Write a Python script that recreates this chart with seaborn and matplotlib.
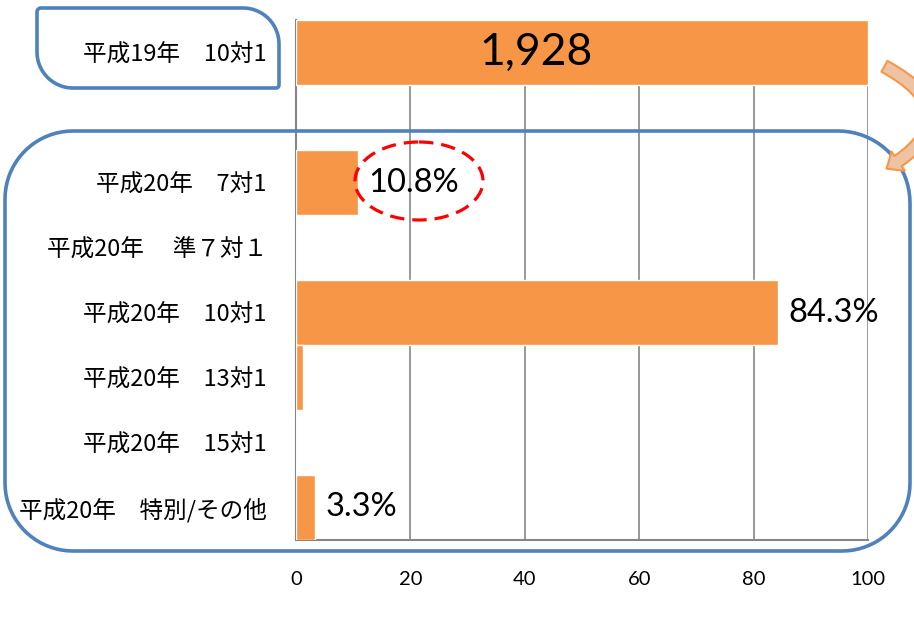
import numpy as np
import matplotlib
matplotlib.use("Agg")
import matplotlib.pyplot as plt
import pandas as pd
import seaborn as sns
from matplotlib.patches import PathPatch, Ellipse, FancyArrowPatch
from matplotlib.path import Path
from matplotlib.transforms import Affine2D

# chart data
categories = [
    "平成19年　10対1",
    " ",
    "平成20年　7対1",
    "平成20年　 準７対１",
    "平成20年　10対1",
    "平成20年　13対1",
    "平成20年　15対1",
    "平成20年　特別/その他",
]
values = [100, np.nan, 10.8, 0, 84.3, 1.3, 0, 3.3]
value_labels = ["1,928", "", "10.8%", "", "84.3%", "", "", "3.3%"]
x_ticks = [0, 20, 40, 60, 80, 100]

W, H = 914, 620
BAR = "#F79646"
GRID = "#868686"
BLUE = "#4F81BD"

sns.set_style("white")
plt.rcParams["font.family"] = ["Noto Sans CJK JP", "DejaVu Sans"]
plt.rcParams["text.color"] = "black"

df = pd.DataFrame({"cat": categories, "val": values})

fig = plt.figure(figsize=(W / 100, H / 100), dpi=100)
ax = fig.add_axes([296 / W, 1 - 540 / H, 572 / W, 520 / H])

sns.barplot(
    data=df, x="val", y="cat", order=categories, orient="h",
    color=BAR, saturation=1, width=0.985, errorbar=None, ax=ax, zorder=3,
)

ax.set_xlim(0, 100)
ax.set_ylim(len(categories) - 0.5, -0.5)
ax.set_xlabel("")
ax.set_ylabel("")
ax.set_axisbelow(True)
ax.xaxis.grid(True, color=GRID, lw=1.2)
ax.yaxis.grid(False)

for side in ["top", "right"]:
    ax.spines[side].set_visible(False)
for side in ["left", "bottom"]:
    ax.spines[side].set_color(GRID)
    ax.spines[side].set_linewidth(1.5)

ax.set_xticks(x_ticks)
ax.set_xticklabels([str(t) for t in x_ticks], family="Lato", fontsize=14.5)
ax.tick_params(axis="x", length=4.5, width=1.2, color=GRID, pad=18, labelcolor="black")

ax.set_yticks(range(len(categories)))
ax.set_yticklabels(categories, fontsize=17)
ax.set_yticks(np.arange(-0.5, len(categories), 1.0), minor=True)
ax.tick_params(axis="y", which="major", length=0, pad=21, labelcolor="black")
ax.tick_params(axis="y", which="minor", length=4.5, width=1.2, color=GRID)

# value labels
for i, (v, lab) in enumerate(zip(values, value_labels)):
    if not lab:
        continue
    if i == 0:
        ax.text(42, i, lab, ha="center", va="center", family="Lato", fontsize=32,
                color="black", zorder=5)
    else:
        ax.text(v + 1.8, i, lab, ha="left", va="center", family="Lato", fontsize=23.5,
                color="black", zorder=5)

# decorations in pixel coordinates (y down)
pix = Affine2D().scale(1 / W, -1 / H).translate(0, 1) + fig.transFigure


def rounded_path(x0, y0, x1, y1, r_tl, r_tr, r_br, r_bl):
    def arc(cx, cy, r, a0, a1):
        t = np.radians(np.linspace(a0, a1, 20))
        return np.column_stack([cx + r * np.cos(t), cy + r * np.sin(t)])

    pts = np.vstack([
        arc(x0 + r_tl, y0 + r_tl, r_tl, 180, 270),
        arc(x1 - r_tr, y0 + r_tr, r_tr, 270, 360),
        arc(x1 - r_br, y1 - r_br, r_br, 0, 90),
        arc(x0 + r_bl, y1 - r_bl, r_bl, 90, 180),
    ])
    return Path(np.vstack([pts, pts[:1]]), closed=True)


fig.add_artist(PathPatch(rounded_path(37, 8, 279, 88, 4, 36, 3, 36),
                         transform=pix, fill=False, ec=BLUE, lw=2.6))
fig.add_artist(PathPatch(rounded_path(5, 131, 910, 551, 68, 72, 68, 68),
                         transform=pix, fill=False, ec=BLUE, lw=2.6))

fig.add_artist(Ellipse((419, 181), 128, 78, transform=pix, fill=False,
                       ec="#FF0000", lw=2.3, ls=(0, (4.5, 2.5))))

fig.add_artist(FancyArrowPatch(
    (882, 65), (884, 170), transform=pix,
    connectionstyle="arc3,rad=-0.9",
    arrowstyle="simple,head_length=10,head_width=17,tail_width=9",
    fc="#EDC3A4", ec=BAR, lw=1.5,
))

fig.savefig("out.png", dpi=100)
